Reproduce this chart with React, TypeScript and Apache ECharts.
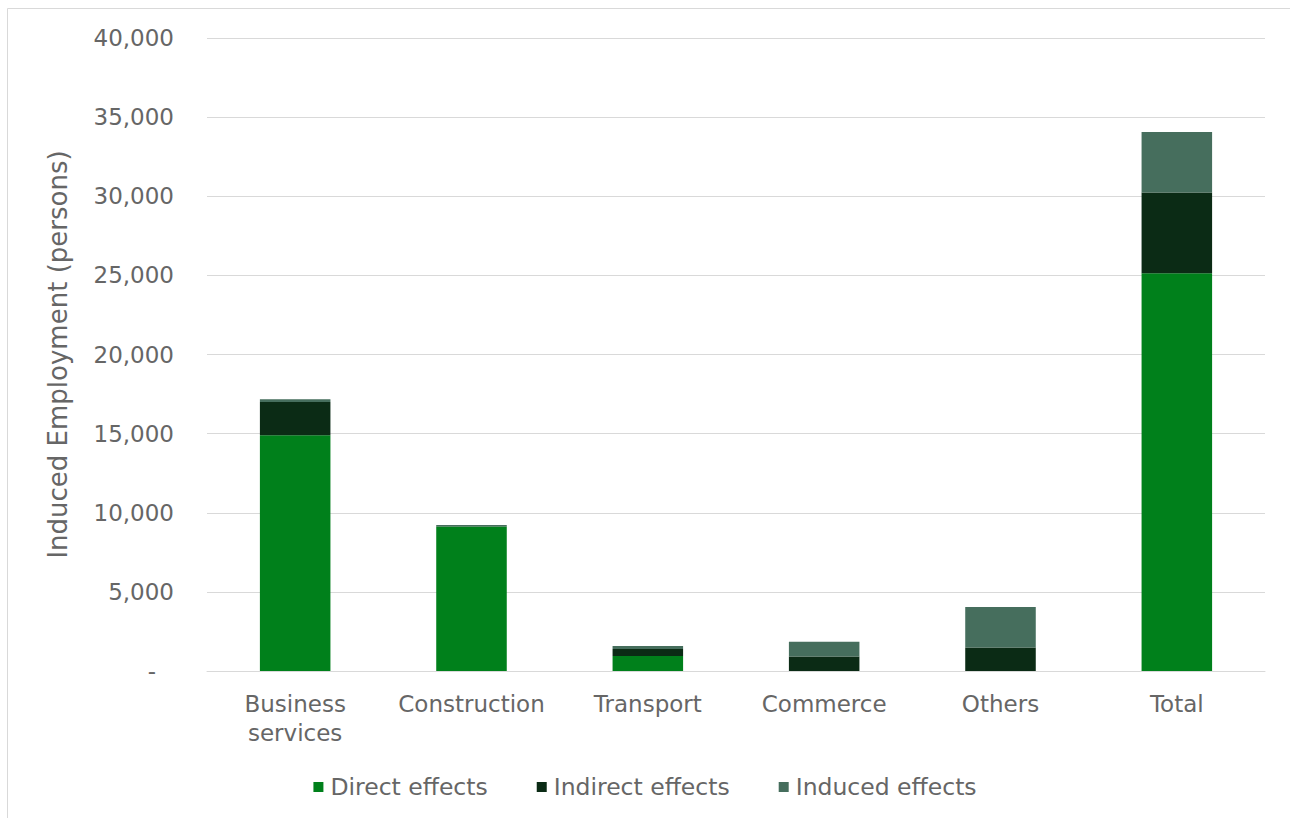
import React, { useEffect, useRef } from "react";
import * as echarts from "echarts";

const categories = ["Business\nservices", "Construction", "Transport", "Commerce", "Others", "Total"];
const directEffects = [14900, 9130, 950, 0, 0, 25140];
const indirectEffects = [2100, 20, 440, 920, 1480, 5100];
const inducedEffects = [180, 80, 190, 930, 2570, 3820];
const yTicks = [0, 5000, 10000, 15000, 20000, 25000, 30000, 35000, 40000];

const FONT = "DejaVu Sans";
const TEXT = "#666666";

export default function App() {
  const ref = useRef<HTMLDivElement>(null);
  useEffect(() => {
    if (!ref.current) return;
    const chart = echarts.init(ref.current, null, { renderer: "svg" });
    const mk = (name: string, data: number[], color: string) => ({
      name,
      type: "bar",
      stack: "total",
      barWidth: "40%",
      data,
      itemStyle: { color },
    });
    chart.setOption({
      animation: false,
      textStyle: { fontFamily: FONT },
      graphic: [
        {
          type: "polyline",
          shape: { points: [[7.5, 818], [7.5, 8.5], [1290, 8.5]] },
          style: { fill: "none", stroke: "#d9d9d9", lineWidth: 1 },
          silent: true,
        },
      ],
      grid: { left: 207, right: 25, top: 38, bottom: 147 },
      legend: {
        bottom: 14,
        left: "center",
        itemWidth: 10,
        itemHeight: 10,
        itemGap: 49,
        icon: "rect",
        textStyle: { fontFamily: FONT, fontSize: 23.5, color: TEXT, padding: [0, 0, 0, 2] },
        data: ["Direct effects", "Indirect effects", "Induced effects"],
      },
      xAxis: {
        type: "category",
        data: categories,
        axisLine: { lineStyle: { color: "#d9d9d9", width: 1 } },
        axisTick: { show: false },
        axisLabel: { interval: 0, fontFamily: FONT, fontSize: 23, color: TEXT, margin: 18, lineHeight: 29 },
      },
      yAxis: {
        type: "value",
        min: yTicks[0],
        max: yTicks[yTicks.length - 1],
        interval: 5000,
        name: "Induced Employment (persons)",
        nameLocation: "middle",
        nameGap: 136,
        nameTextStyle: { fontFamily: FONT, fontSize: 26, color: TEXT },
        axisLine: { show: false },
        axisTick: { show: false },
        splitLine: { lineStyle: { color: "#d9d9d9", width: 1 } },
        axisLabel: {
          fontFamily: FONT,
          fontSize: 23,
          color: TEXT,
          margin: 33,
          formatter: (v: number) => (v === 0 ? "{z|-}" : v.toLocaleString("en-US")),
          rich: { z: { fontFamily: FONT, fontSize: 23, color: TEXT, padding: [0, 18, 0, 0] } },
        },
      },
      series: [
        mk("Direct effects", directEffects, "#00801b"),
        mk("Indirect effects", indirectEffects, "#0b2b15"),
        mk("Induced effects", inducedEffects, "#466e5d"),
      ],
    });
    return () => chart.dispose();
  }, []);
  return (
    <div
      ref={ref}
      style={{ position: "fixed", left: 0, top: 0, width: 1290, height: 818, background: "#fff" }}
    />
  );
}
